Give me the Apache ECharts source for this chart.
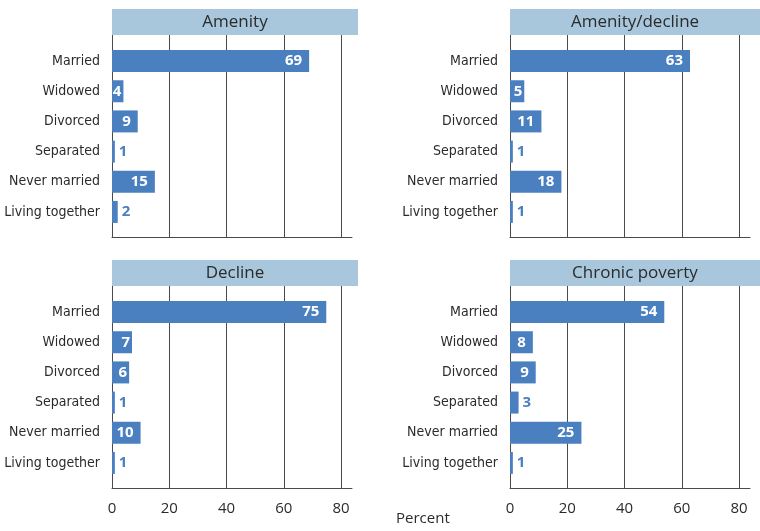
<!DOCTYPE html>
<html>
<head>
<meta charset="utf-8">
<script src="https://cdn.jsdelivr.net/npm/echarts@6/dist/echarts.min.js"></script>
<style>
  html, body { margin: 0; padding: 0; background: #fff; }
  #main { width: 760px; height: 531px; }
</style>
</head>
<body>
<div id="main"></div>
<script>
var chartDom = document.getElementById('main');
var myChart = echarts.init(chartDom, null, { renderer: 'canvas' });

const categories = ['Married', 'Widowed', 'Divorced', 'Separated', 'Never married', 'Living together'];
const panelTitles = ['Amenity', 'Amenity/decline', 'Decline', 'Chronic poverty'];
const amenity = [69, 4, 9, 1, 15, 2];
const amenityDecline = [63, 5, 11, 1, 18, 1];
const decline = [75, 7, 6, 1, 10, 1];
const chronicPoverty = [54, 8, 9, 3, 25, 1];
const panelValues = [amenity, amenityDecline, decline, chronicPoverty];
const xMin = 0, xMax = 80, xStep = 20;

const barColor = '#4a7fc0';
const headColor = '#a8c6dc';
const lineColor = '#4a4a4a';
const textColor = '#2b2b2b';
const narrowFont = '"DejaVu Sans Condensed", "Liberation Sans Narrow", sans-serif';

// panel placement
const lefts = [112, 510, 112, 510];
const tops = [35, 35, 286, 286];
const headWidths = [246, 250, 246, 250];

var option = {
    animation: false,
    grid: [],
    xAxis: [],
    yAxis: [],
    series: [],
    graphic: []
};

panelTitles.forEach(function (title, i) {
    const left = lefts[i];
    const top = tops[i];
    // grid for vertical gridlines and tick labels
    option.grid.push({ left: left, top: top, width: 229, height: 202 });
    // grid for the bars
    option.grid.push({ left: left, top: top + 11, width: 240, height: 181 });

    option.xAxis.push({
        gridIndex: 2 * i,
        type: 'value',
        min: xMin,
        max: xMax,
        interval: xStep,
        axisLine: { show: false },
        axisTick: { show: false },
        axisLabel: {
            show: i >= 2,
            margin: 13,
            fontSize: 15,
            fontFamily: 'Open Sans',
            color: textColor
        },
        splitLine: { show: true, lineStyle: { color: lineColor, width: 1 } }
    });
    option.xAxis.push({
        gridIndex: 2 * i + 1,
        type: 'value',
        min: 0,
        max: 84,
        offset: 10,
        axisLine: { show: true, lineStyle: { color: lineColor, width: 1 } },
        axisTick: { show: false },
        axisLabel: { show: false },
        splitLine: { show: false }
    });
    option.yAxis.push({ gridIndex: 2 * i, type: 'value', show: false });
    option.yAxis.push({
        gridIndex: 2 * i + 1,
        type: 'category',
        inverse: true,
        data: categories,
        axisLine: { show: false },
        axisTick: { show: false },
        axisLabel: {
            margin: 12,
            fontSize: 14,
            fontFamily: narrowFont,
            color: textColor
        }
    });

    option.series.push({
        type: 'bar',
        name: title,
        xAxisIndex: 2 * i + 1,
        yAxisIndex: 2 * i + 1,
        barWidth: 22,
        itemStyle: { color: barColor },
        data: panelValues[i].map(function (v) {
            const small = v <= 3;
            return {
                value: v,
                label: {
                    show: true,
                    position: small ? 'right' : 'insideRight',
                    distance: small ? 4 : (v < 8 ? 2 : 7),
                    color: small ? barColor : '#ffffff',
                    fontWeight: 'bold',
                    fontSize: 15,
                    fontFamily: 'Open Sans'
                }
            };
        })
    });

    option.graphic.push({
        type: 'group',
        left: left,
        top: top - 26,
        children: [
            {
                type: 'rect',
                shape: { x: 0, y: 0, width: headWidths[i], height: 26 },
                style: { fill: headColor }
            },
            {
                type: 'text',
                style: {
                    x: headWidths[i] / 2,
                    y: 13,
                    text: title,
                    align: 'center',
                    verticalAlign: 'middle',
                    font: '17px "Open Sans"',
                    fill: textColor
                }
            }
        ]
    });
});

option.graphic.push({
    type: 'text',
    left: 396,
    top: 511,
    style: {
        text: 'Percent',
        font: '15px "Open Sans"',
        fill: textColor
    }
});

option && myChart.setOption(option);
</script>
</body>
</html>
